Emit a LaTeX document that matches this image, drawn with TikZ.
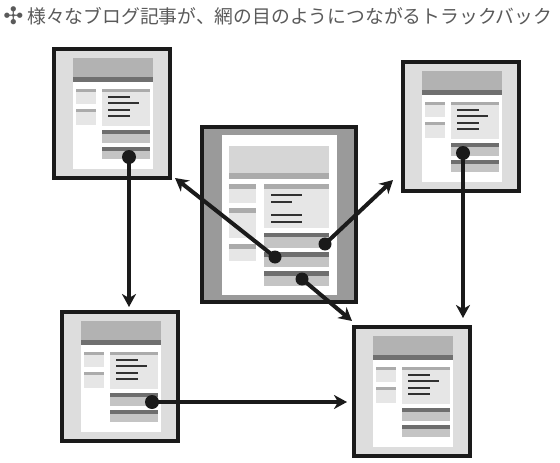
\documentclass[tikz,border=0pt]{standalone}
\usepackage{fontspec}
\newfontfamily\cjk{Noto Sans CJK JP}
\newfontfamily\dejavu{DejaVu Sans}
\usetikzlibrary{arrows.meta}
\definecolor{ink}{HTML}{1A1A1A}
\definecolor{frameL}{HTML}{DDDDDD}
\definecolor{frameD}{HTML}{9A9A9A}
\definecolor{hdrL}{HTML}{B2B2B2}
\definecolor{hdrD}{HTML}{707070}
\definecolor{stripL}{HTML}{ABABAB}
\definecolor{boxL}{HTML}{E6E6E6}
\definecolor{cmtD}{HTML}{6E6E6E}
\definecolor{cmtL}{HTML}{C4C4C4}
\definecolor{cHdr}{HTML}{D6D6D6}
\definecolor{txt}{HTML}{5A5A5A}
\tikzset{
  framebox/.style={draw=ink, line width=3.3pt},
  textline/.style={draw=ink!90, line width=2pt},
  dot/.style={circle, fill=ink, inner sep=0pt, minimum size=14pt},
  cdot/.style={circle, fill=ink, inner sep=0pt, minimum size=13pt},
  arr/.style={draw=ink, line width=4pt, -{Stealth[length=13pt,width=14pt,inset=4pt]}},
  blogpage/.pic={
    \draw[framebox, fill=frameL] (0,0) rectangle (116,129);
    \fill[white] (19,9) rectangle (99,120);
    \fill[hdrL] (19,9) rectangle (99,28);
    \fill[hdrD] (19,28) rectangle (99,33);
    \fill[stripL] (22,40) rectangle (42,43);
    \fill[boxL] (22,43) rectangle (42,55);
    \fill[stripL] (22,60) rectangle (42,63);
    \fill[boxL] (22,63) rectangle (42,76);
    \fill[stripL] (48,40) rectangle (96,43);
    \fill[boxL] (48,43) rectangle (96,77);
    \draw[textline] (54,48) -- (76,48);
    \draw[textline] (54,54) -- (85,54);
    \draw[textline] (54,61) -- (76,61);
    \draw[textline] (54,67) -- (76,67);
    \fill[cmtD] (48,81) rectangle (96,85);
    \fill[cmtL] (48,85) rectangle (96,94);
    \fill[cmtD] (48,98) rectangle (96,102);
    \fill[cmtL] (48,102) rectangle (96,110);
  }
}
\begin{document}
\begin{tikzpicture}[x=1pt,y=-1pt]
\useasboundingbox (0,0) rectangle (560,463);
\fill[white] (0,0) rectangle (560,463);

% title
\node[inner sep=0pt, text=txt, font=\dejavu\fontsize{24}{24}\selectfont] (sym) at (13.5,16) {✣};
\node[inner sep=0pt, anchor=west, text=txt, font=\cjk\fontsize{18.8}{20}\selectfont] (title) at (27,16) {様々なブログ記事が、網の目のようにつながるトラックバック};

% small pages
\pic at (54,49) {blogpage};
\pic at (403,62) {blogpage};
\pic at (62,312) {blogpage};
\pic at (354,327) {blogpage};

% centre page
\draw[framebox, fill=frameD] (202,127) rectangle (356,302);
\fill[white] (222,135) rectangle (337,295);
\fill[cHdr] (229,146) rectangle (329,173);
\fill[stripL] (229,173) rectangle (329,179);
\fill[stripL] (229,184) rectangle (256,189);
\fill[boxL] (229,189) rectangle (256,203);
\fill[stripL] (229,208) rectangle (256,213);
\fill[boxL] (229,213) rectangle (256,238);
\fill[stripL] (229,244) rectangle (256,249);
\fill[boxL] (229,249) rectangle (256,261);
\fill[stripL] (264,184) rectangle (329,189);
\fill[boxL] (264,189) rectangle (329,228);
\draw[textline] (271,195) -- (302,195);
\draw[textline] (271,202) -- (292,202);
\draw[textline] (271,215) -- (302,215);
\draw[textline] (271,222) -- (302,222);
\fill[cmtD] (264,233) rectangle (329,237);
\fill[cmtL] (264,237) rectangle (329,248);
\fill[cmtD] (264,252) rectangle (329,257);
\fill[cmtL] (264,257) rectangle (329,267);
\fill[cmtD] (264,271) rectangle (329,276);
\fill[cmtL] (264,276) rectangle (329,286);

% dots
\node[dot] (dTL) at (129,157) {};
\node[dot] (dTR) at (463,153) {};
\node[dot] (dBL) at (152,402) {};
\node[cdot] (dC1) at (325,244) {};
\node[cdot] (dC2) at (275,257) {};
\node[cdot] (dC3) at (302,279) {};

% arrow tips
\coordinate (tTL) at (175,178);
\coordinate (tTR) at (393,180);
\coordinate (tBR) at (352,321);
\coordinate (tBL) at (129,307);
\coordinate (tR) at (463,318);
\coordinate (tH) at (347,402);

% arrows
\draw[arr] (dC2.center) -- (tTL);
\draw[arr] (dC1.center) -- (tTR);
\draw[arr] (dC3.center) -- (tBR);
\draw[arr] (dTL.center) -- (tBL);
\draw[arr] (dTR.center) -- (tR);
\draw[arr] (dBL.center) -- (tH);
\end{tikzpicture}
\end{document}
